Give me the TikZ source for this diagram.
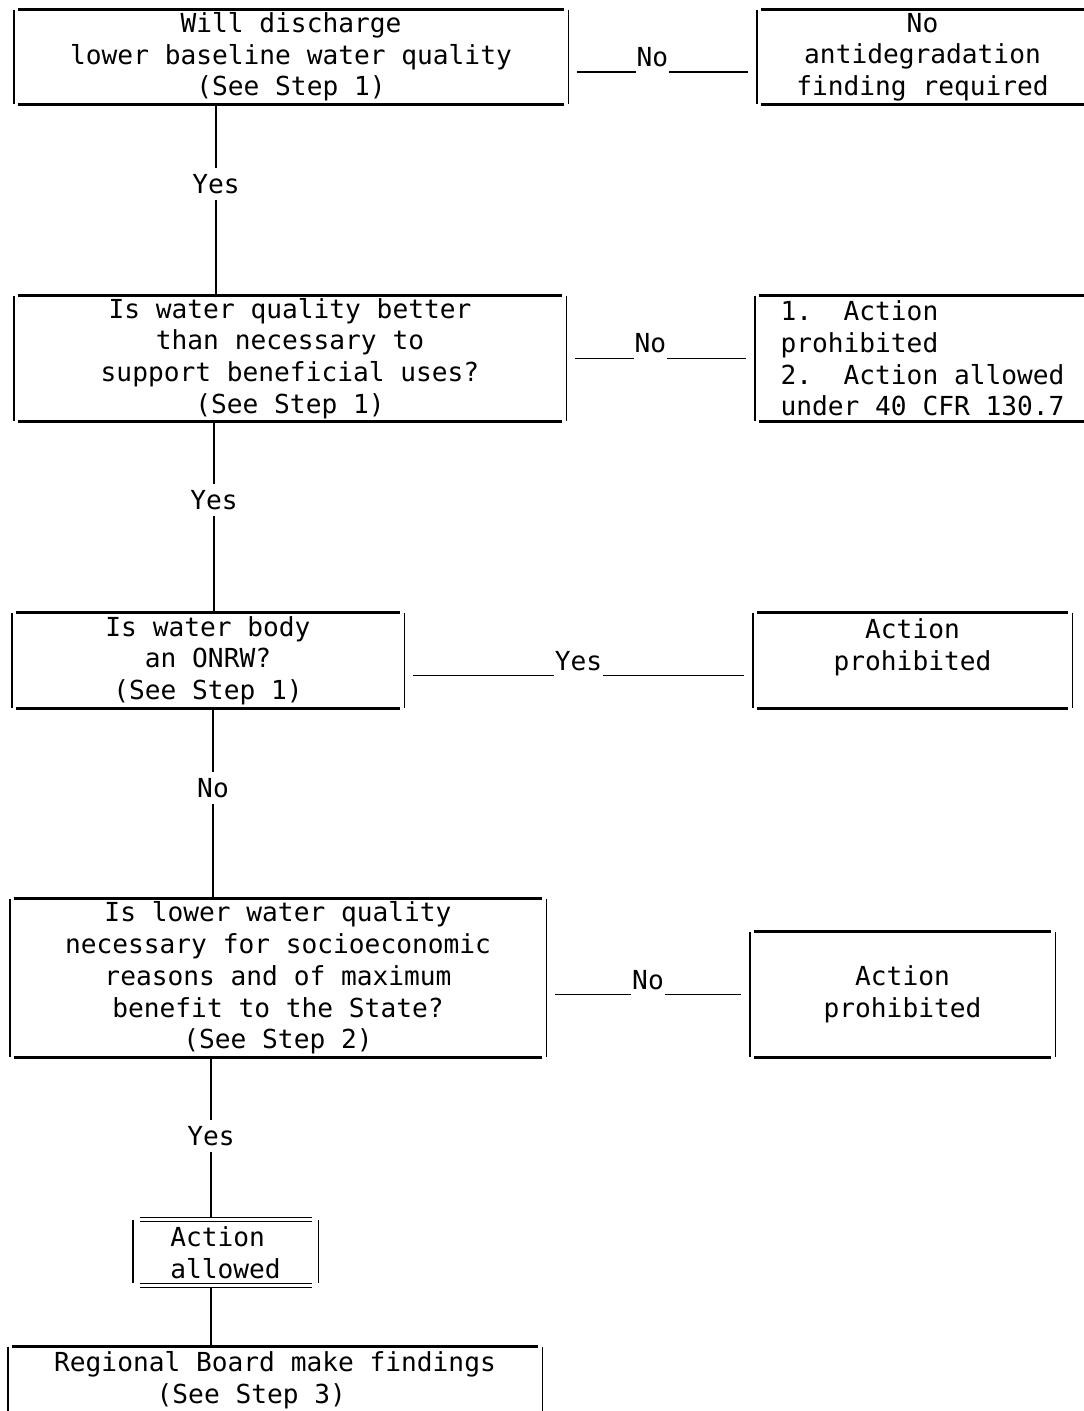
\documentclass[tikz,border=0pt]{standalone}
\usepackage{fontspec}
\setmonofont{DejaVu Sans Mono}
\newdimen\px \px=0.5pt
\tikzset{
  every node/.style={font=\ttfamily\fontsize{13.1pt}{15.85pt}\selectfont},
  % --- boxes
  box/.style  = {inner sep=0pt, align=center},
  rule/.style = {line width=1.2pt},
  bar/.style  = {line width=0.9pt},
  % --- connectors
  link/.style = {line width=0.6pt},
  hlbl/.style = {midway, anchor=base, yshift=5.5\px, fill=white, text depth=0pt,
                 inner xsep=1\px, inner ysep=4pt},
  vlbl/.style = {text height=9.6pt, text depth=0pt, inner xsep=0pt, inner ysep=3pt},
}
\begin{document}
\begin{tikzpicture}[x=0.5pt,y=-0.5pt]
  \useasboundingbox (0,0) rectangle (1083,1411);
  \node[box, minimum width=554\px, minimum height=94\px] (a) at (291,57)
    {Will discharge\\lower baseline water quality\\(See Step 1)};
  \node[box, minimum width=331\px, minimum height=94\px] (b) at (922.5,57)
    {No\\antidegradation\\finding required};
  \node[box, minimum width=552\px, minimum height=125\px] (c) at (290,358.5)
    {Is water quality better\\than necessary to\\support beneficial uses?\\(See Step 1)};
  \node[box, minimum width=335\px, minimum height=125\px, align=left] (d) at (922.5,358.5)
    {1.~~Action\\prohibited\\2.~~Action~allowed\\under~40~CFR~130.7};
  \node[box, minimum width=392\px, minimum height=95\px] (e) at (208,660.5)
    {Is water body\\an ONRW?\\(See Step 1)};
  \node[box, minimum width=319\px, minimum height=95\px] (f) at (912.5,660.5)
    {Action\\prohibited\\\mbox{}};
  \node[box, minimum width=536\px, minimum height=158\px] (g) at (278,978)
    {Is lower water quality\\necessary for socioeconomic\\reasons and of maximum\\benefit to the State?\\(See Step 2)};
  \node[box, minimum width=305\px, minimum height=125\px] (h) at (902.5,994.5)
    {Action\\prohibited};
  \node[box, minimum width=185\px, minimum height=69\px, align=left] (i) at (225.5,1252.5)
    {Action\\allowed};
  \node[box, minimum width=534\px, minimum height=66\px] (j) at (275,1380)
    {Regional Board make findings\\(See Step 3)\phantom{xxx}};

  % frames: typed rules and bars
  \foreach \n in {a,b,c,d,e,f,g,h,j}{
    \draw[rule] ([xshift=4\px]\n.north west) -- ([xshift=-4\px]\n.north east)
                ([xshift=4\px]\n.south west) -- ([xshift=-4\px]\n.south east);
    \draw[bar] (\n.north west) -- (\n.south west) (\n.north east) -- (\n.south east);
  }
  \draw[line width=0.8pt] ([xshift=7\px]i.north west) -- ([xshift=-6\px]i.north east)
        ([xshift=7\px,yshift=-4\px]i.north west) -- ([xshift=-6\px,yshift=-4\px]i.north east)
        ([xshift=7\px,yshift=4\px]i.south west) -- ([xshift=-6\px,yshift=4\px]i.south east)
        ([xshift=7\px]i.south west) -- ([xshift=-6\px]i.south east);
  \draw[bar] ([yshift=-2\px]i.north west) -- ([yshift=4\px]i.south west)
             ([yshift=-2\px]i.north east) -- ([yshift=4\px]i.south east);

  % side branches
  \draw[link] ([xshift=9\px,yshift=-15\px]a.east) -- node[hlbl, pos=.44]{No} ([xshift=-9\px,yshift=-15\px]b.west);
  \draw[link] ([xshift=9\px]c.east) -- node[hlbl, pos=.44]{No} ([xshift=-9\px]d.west);
  \draw[link] ([xshift=9\px,yshift=-15\px]e.east) -- node[hlbl]{Yes} ([xshift=-9\px,yshift=-15\px]f.west);
  \draw[link] ([xshift=9\px]g.east |- h.west) -- node[hlbl]{No} ([xshift=-9\px]h.west);

  % main line
  \node[vlbl] (y1) at (216,184) {Yes};
  \node[vlbl] (y2) at (214,500) {Yes};
  \node[vlbl] (n3) at (213,788) {No};
  \node[vlbl] (y4) at (211,1136) {Yes};
  \draw[link] (a.south -| y1) -- (y1.north) (y1.south) -- (c.north -| y1);
  \draw[link] (c.south -| y2) -- (y2.north) (y2.south) -- (e.north -| y2);
  \draw[link] (e.south -| n3) -- (n3.north) (n3.south) -- (g.north -| n3);
  \draw[link] (g.south -| y4) -- (y4.north) (y4.south) -- (i.north -| y4);
  \draw[link] (i.south -| y4) -- (j.north -| y4);
\end{tikzpicture}
\end{document}
